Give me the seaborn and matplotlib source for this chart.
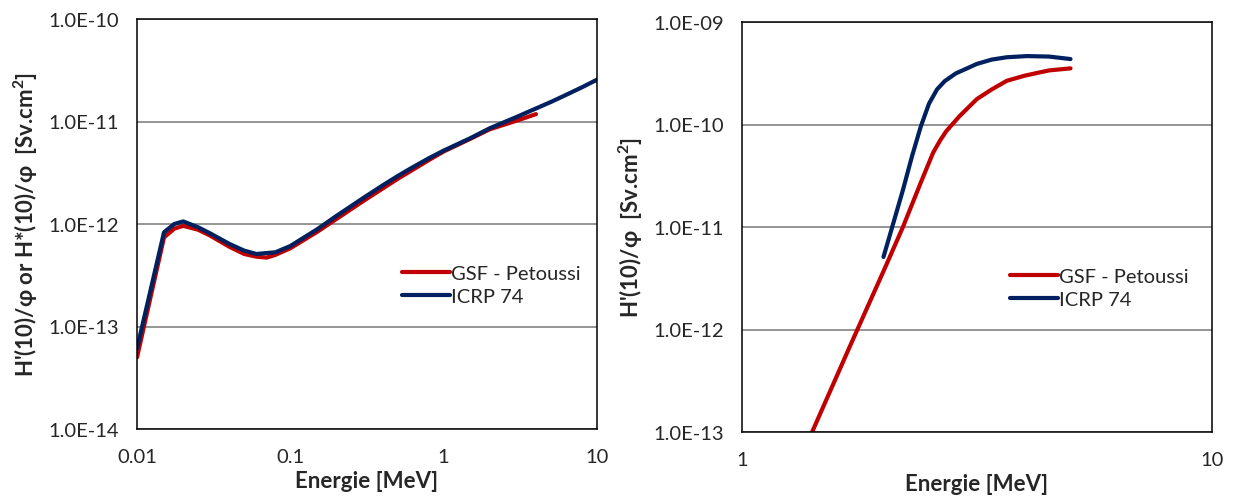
import numpy as np
import pandas as pd
import seaborn as sns
import matplotlib
matplotlib.use("Agg")
import matplotlib.pyplot as plt
from matplotlib.ticker import LogLocator, FixedLocator, FixedFormatter, NullFormatter

# --- left panel: H*(10)/phi and H'(10)/phi vs energy (photons), pSv.cm2
e_icrp = [0.01, 0.015, 0.0175, 0.02, 0.025, 0.03, 0.04, 0.05, 0.06, 0.08, 0.1, 0.15,
          0.2, 0.3, 0.4, 0.5, 0.6, 0.8, 1, 1.5, 2, 3, 4, 5, 6, 8, 10]
h_icrp = [0.061, 0.83, 1.0, 1.06, 0.93, 0.81, 0.64, 0.55, 0.51, 0.53, 0.61, 0.89,
          1.20, 1.80, 2.38, 2.93, 3.44, 4.38, 5.20, 6.90, 8.60, 11.1, 13.4, 15.5, 17.6, 21.6, 25.6]
e_gsf = [0.01, 0.015, 0.0175, 0.02, 0.025, 0.03, 0.04, 0.05, 0.06, 0.07, 0.08, 0.1,
         0.15, 0.2, 0.3, 0.5, 0.8, 1, 1.5, 2, 3, 4]
h_gsf = [0.05, 0.74, 0.90, 0.96, 0.88, 0.77, 0.60, 0.51, 0.48, 0.47, 0.50, 0.58,
         0.84, 1.12, 1.68, 2.75, 4.2, 5.1, 6.8, 8.4, 10.2, 11.8]

# --- right panel: H'(10)/phi (electrons), Sv.cm2
e2_icrp = [2.0, 2.1, 2.2, 2.3, 2.4, 2.5, 2.6, 2.7, 2.85, 3.0, 3.16, 3.4, 3.66, 4.04, 4.5, 5.0]
h2_icrp = [5.1e-12, 1.1e-11, 2.3e-11, 4.9e-11, 9.5e-11, 1.6e-10, 2.2e-10, 2.65e-10,
           3.15e-10, 3.5e-10, 3.9e-10, 4.3e-10, 4.53e-10, 4.65e-10, 4.6e-10, 4.35e-10]
e2_gsf = [1.41, 1.7, 2.0, 2.2, 2.4, 2.55, 2.64, 2.72, 2.8, 2.9, 3.16, 3.4, 3.66, 4.0, 4.5, 5.0]
h2_gsf = [1.0e-13, 7.0e-13, 3.7e-12, 1.0e-11, 2.7e-11, 5.3e-11, 7.0e-11, 8.6e-11, 1.0e-10,
          1.2e-10, 1.77e-10, 2.2e-10, 2.67e-10, 3.0e-10, 3.37e-10, 3.53e-10]

series_names = ["GSF - Petoussi", "ICRP 74"]
colors = {"GSF - Petoussi": "#C00000", "ICRP 74": "#002060"}

left_df = pd.concat([
    pd.DataFrame({"E": e_gsf, "H": np.array(h_gsf) * 1e-12, "serie": series_names[0]}),
    pd.DataFrame({"E": e_icrp, "H": np.array(h_icrp) * 1e-12, "serie": series_names[1]}),
])
right_df = pd.concat([
    pd.DataFrame({"E": e2_gsf, "H": h2_gsf, "serie": series_names[0]}),
    pd.DataFrame({"E": e2_icrp, "H": h2_icrp, "serie": series_names[1]}),
])

sns.set_style("white")
plt.rcParams["font.family"] = ["Lato", "DejaVu Sans"]
plt.rcParams["axes.linewidth"] = 1.1

fig = plt.figure(figsize=(12.34, 5.02), dpi=100)
ax1 = fig.add_axes([137 / 1234, 1 - 430 / 502, 460 / 1234, 410 / 502])
ax2 = fig.add_axes([742 / 1234, 1 - 433 / 502, 470 / 1234, 410 / 502])


def style_axis(ax, xlim, ylim, xticks, xlabels, ylabel):
    ax.set_xscale("log")
    ax.set_yscale("log")
    ax.set_xlim(*xlim)
    ax.set_ylim(*ylim)
    yt = [10.0 ** k for k in range(int(np.log10(ylim[0])), int(np.log10(ylim[1])) + 1)]
    ax.yaxis.set_major_locator(FixedLocator(yt))
    ax.yaxis.set_major_formatter(FixedFormatter([f"1.0E{int(np.log10(v)):03d}" for v in yt]))
    ax.yaxis.set_minor_locator(FixedLocator([]))
    ax.xaxis.set_major_locator(FixedLocator(xticks))
    ax.xaxis.set_major_formatter(FixedFormatter(xlabels))
    ax.xaxis.set_minor_locator(LogLocator(base=10, subs=np.arange(2, 10)))
    ax.xaxis.set_minor_formatter(NullFormatter())
    ax.grid(axis="y", which="major", color="#8c8c8c", linewidth=1.3)
    ax.tick_params(axis="both", which="major", direction="out", length=6, width=1.1,
                   labelsize=14.5, color="black")
    ax.tick_params(axis="x", which="minor", direction="out", length=4, width=1.1, color="black")
    ax.tick_params(axis="y", which="major", pad=7)
    ax.tick_params(axis="x", which="major", pad=8)
    for s in ax.spines.values():
        s.set_color("black")
        s.set_visible(True)
    ax.set_xlabel("Energie [MeV]", fontsize=16, fontweight="bold", labelpad=3)
    ax.set_ylabel(ylabel, fontsize=16, fontweight="bold", labelpad=6)


sns.lineplot(data=left_df, x="E", y="H", hue="serie", palette=colors, linewidth=3.0,
             ax=ax1, sort=False, estimator=None)
sns.lineplot(data=right_df, x="E", y="H", hue="serie", palette=colors, linewidth=3.0,
             ax=ax2, sort=False, estimator=None)

style_axis(ax1, (0.01, 10), (1e-14, 1e-10), [0.01, 0.1, 1, 10], ["0.01", "0.1", "1", "10"],
           "H'(10)/\u03c6 or H*(10)/\u03c6  [Sv.cm$^\\mathregular{2}$]")
style_axis(ax2, (1, 10), (1e-13, 1e-9), [1, 10], ["1", "10"],
           "H'(10)/\u03c6  [Sv.cm$^\\mathregular{2}$]")

for ax, anchor in [(ax1, (0.575, 0.40)), (ax2, (0.57, 0.40))]:
    leg = ax.legend(loc="upper left", bbox_to_anchor=anchor, frameon=False, fontsize=14.5,
                    handlelength=2.4, handletextpad=0.05, labelspacing=0.3, borderaxespad=0,
                    borderpad=0)
    for line in leg.get_lines():
        line.set_linewidth(3.0)

fig.savefig("out.png", dpi=100)
